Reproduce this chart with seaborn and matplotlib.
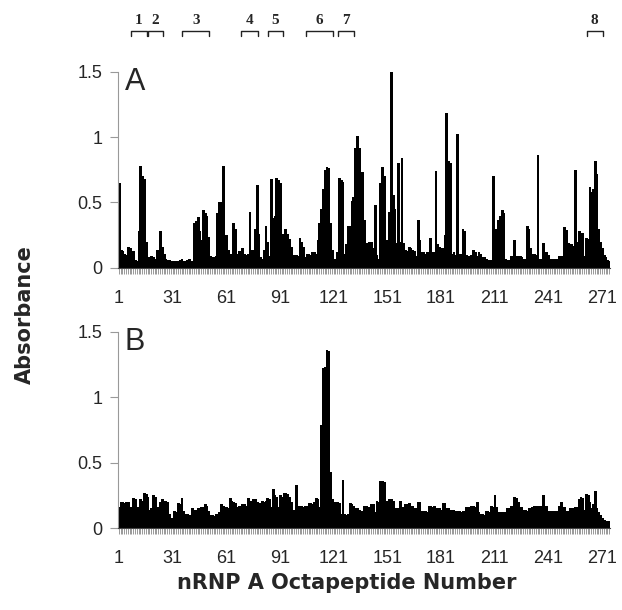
import numpy as np
import pandas as pd
import seaborn as sns
import matplotlib.pyplot as plt
from matplotlib.transforms import blended_transform_factory

# Absorbance for each nRNP A octapeptide (1..275), panel A and panel B
abs_a = [
    0.65, 0.14, 0.13, 0.11, 0.10, 0.16, 0.15, 0.06, 0.13, 0.06,
    0.05, 0.28, 0.78, 0.70, 0.68, 0.20, 0.08, 0.08, 0.09, 0.08,
    0.07, 0.14, 0.14, 0.28, 0.16, 0.11, 0.07, 0.06, 0.06, 0.05,
    0.05, 0.05, 0.05, 0.05, 0.06, 0.07, 0.05, 0.05, 0.06, 0.07,
    0.05, 0.05, 0.34, 0.36, 0.39, 0.28, 0.21, 0.44, 0.42, 0.40,
    0.24, 0.09, 0.08, 0.08, 0.09, 0.42, 0.50, 0.50, 0.78, 0.09,
    0.25, 0.14, 0.11, 0.11, 0.34, 0.30, 0.11, 0.13, 0.13, 0.15,
    0.11, 0.10, 0.11, 0.43, 0.14, 0.14, 0.30, 0.63, 0.26, 0.08,
    0.07, 0.14, 0.32, 0.20, 0.09, 0.68, 0.38, 0.40, 0.69, 0.67,
    0.65, 0.26, 0.26, 0.30, 0.26, 0.22, 0.16, 0.07, 0.10, 0.10,
    0.09, 0.23, 0.20, 0.16, 0.08, 0.11, 0.11, 0.10, 0.12, 0.12,
    0.11, 0.21, 0.34, 0.45, 0.60, 0.75, 0.77, 0.76, 0.34, 0.14,
    0.07, 0.07, 0.12, 0.69, 0.67, 0.66, 0.11, 0.18, 0.32, 0.32,
    0.51, 0.54, 0.92, 1.01, 0.92, 0.19, 0.73, 0.37, 0.19, 0.19,
    0.20, 0.20, 0.15, 0.48, 0.10, 0.07, 0.65, 0.77, 0.70, 0.18,
    0.21, 0.43, 1.54, 0.56, 0.45, 0.19, 0.80, 0.20, 0.84, 0.19,
    0.14, 0.13, 0.16, 0.15, 0.14, 0.13, 0.09, 0.37, 0.21, 0.12,
    0.12, 0.11, 0.12, 0.12, 0.23, 0.12, 0.12, 0.74, 0.18, 0.16,
    0.15, 0.15, 0.25, 1.18, 0.82, 0.80, 0.11, 0.12, 0.10, 1.02,
    0.11, 0.11, 0.30, 0.28, 0.10, 0.09, 0.09, 0.10, 0.14, 0.12,
    0.09, 0.12, 0.11, 0.08, 0.08, 0.07, 0.06, 0.06, 0.06, 0.70,
    0.28, 0.30, 0.37, 0.40, 0.44, 0.42, 0.07, 0.06, 0.06, 0.09,
    0.06, 0.21, 0.09, 0.09, 0.09, 0.08, 0.07, 0.07, 0.32, 0.30,
    0.15, 0.11, 0.11, 0.10, 0.86, 0.07, 0.07, 0.19, 0.12, 0.12,
    0.10, 0.07, 0.07, 0.07, 0.07, 0.07, 0.09, 0.09, 0.09, 0.31,
    0.29, 0.19, 0.18, 0.18, 0.17, 0.75, 0.20, 0.28, 0.27, 0.27,
    0.09, 0.23, 0.22, 0.62, 0.58, 0.60, 0.82, 0.72, 0.30, 0.20,
    0.15, 0.10, 0.08, 0.06, 0.05,
]
abs_b = [
    0.16, 0.20, 0.20, 0.19, 0.20, 0.20, 0.16, 0.15, 0.23, 0.22,
    0.16, 0.16, 0.22, 0.21, 0.27, 0.26, 0.24, 0.14, 0.15, 0.25,
    0.24, 0.15, 0.16, 0.20, 0.22, 0.21, 0.21, 0.20, 0.11, 0.08,
    0.08, 0.13, 0.12, 0.19, 0.18, 0.23, 0.13, 0.11, 0.11, 0.10,
    0.08, 0.15, 0.14, 0.14, 0.15, 0.15, 0.16, 0.16, 0.18, 0.17,
    0.13, 0.10, 0.10, 0.09, 0.11, 0.11, 0.12, 0.18, 0.17, 0.16,
    0.16, 0.15, 0.23, 0.21, 0.20, 0.19, 0.16, 0.17, 0.17, 0.18,
    0.18, 0.17, 0.23, 0.21, 0.21, 0.22, 0.22, 0.20, 0.19, 0.19,
    0.21, 0.20, 0.21, 0.23, 0.22, 0.16, 0.30, 0.25, 0.24, 0.16,
    0.25, 0.24, 0.27, 0.27, 0.26, 0.24, 0.20, 0.14, 0.14, 0.33,
    0.17, 0.17, 0.17, 0.16, 0.17, 0.17, 0.19, 0.19, 0.18, 0.20,
    0.23, 0.22, 0.16, 0.79, 1.22, 1.23, 1.36, 1.35, 0.43, 0.22,
    0.19, 0.20, 0.20, 0.19, 0.11, 0.37, 0.11, 0.10, 0.11, 0.19,
    0.18, 0.17, 0.15, 0.15, 0.14, 0.13, 0.13, 0.17, 0.17, 0.16,
    0.16, 0.18, 0.18, 0.12, 0.21, 0.20, 0.36, 0.36, 0.35, 0.21,
    0.21, 0.22, 0.22, 0.21, 0.14, 0.15, 0.15, 0.21, 0.16, 0.16,
    0.18, 0.18, 0.19, 0.17, 0.17, 0.15, 0.15, 0.20, 0.20, 0.13,
    0.13, 0.13, 0.12, 0.17, 0.17, 0.16, 0.17, 0.15, 0.15, 0.15,
    0.14, 0.19, 0.19, 0.15, 0.15, 0.14, 0.14, 0.14, 0.13, 0.13,
    0.13, 0.12, 0.13, 0.13, 0.16, 0.16, 0.15, 0.17, 0.17, 0.16,
    0.20, 0.12, 0.11, 0.11, 0.10, 0.13, 0.13, 0.12, 0.17, 0.16,
    0.25, 0.16, 0.12, 0.12, 0.12, 0.11, 0.12, 0.15, 0.15, 0.17,
    0.17, 0.24, 0.23, 0.20, 0.16, 0.16, 0.14, 0.14, 0.13, 0.15,
    0.15, 0.16, 0.17, 0.17, 0.16, 0.17, 0.17, 0.25, 0.17, 0.17,
    0.13, 0.13, 0.13, 0.13, 0.12, 0.13, 0.17, 0.20, 0.16, 0.16,
    0.13, 0.13, 0.15, 0.15, 0.15, 0.16, 0.16, 0.22, 0.24, 0.23,
    0.14, 0.26, 0.25, 0.20, 0.15, 0.18, 0.28, 0.15, 0.12, 0.10,
    0.08, 0.06, 0.05, 0.05, 0.05,
]
tick_labels = [1, 31, 61, 91, 121, 151, 181, 211, 241, 271]
y_ticks = [0, 0.5, 1, 1.5]
y_tick_labels = ["0", "0.5", "1", "1.5"]

# mapped epitopes (first and last octapeptide of each bracket)
epitope_names = ["1", "2", "3", "4", "5", "6", "7", "8"]
epitope_start = [8, 18, 37, 70, 85, 106, 124, 263]
epitope_end = [16, 25, 51, 78, 92, 120, 132, 271]

sns.set_style("white")
plt.rcParams["font.family"] = ["Liberation Sans", "DejaVu Sans"]

fig = plt.figure(figsize=(6.22, 6.10), dpi=100)
ax_a = fig.add_axes([0.1897, 0.5607, 0.791, 0.322])
ax_b = fig.add_axes([0.1897, 0.1344, 0.791, 0.322])


def draw_panel(ax, values, letter):
    """Bar chart of absorbance for one serum."""
    df = pd.DataFrame({"peptide": np.arange(1, len(values) + 1), "absorbance": values})
    sns.barplot(data=df, x="peptide", y="absorbance", ax=ax, color="black",
                width=1.0, edgecolor="black", linewidth=0.6, saturation=1)
    # solid black blocks, no hairline gaps between neighbouring bars
    for bar in ax.patches:
        bar.set_antialiased(False)
    n = len(values)
    ax.set_xlim(-0.5, n - 0.5)
    ax.set_ylim(0, 1.5)
    ax.set_xticks([t - 1 for t in tick_labels])
    ax.set_xticklabels([str(t) for t in tick_labels], fontsize=13)
    ax.set_xticks(np.arange(n), minor=True)
    ax.set_yticks(y_ticks)
    ax.set_yticklabels(y_tick_labels, fontsize=13)
    ax.tick_params(axis="x", which="both", direction="out", length=4, width=0.7,
                   color="#999999", pad=12, bottom=True)
    ax.tick_params(axis="y", direction="out", length=6, width=0.8,
                   color="#999999", pad=5, left=True)
    for side in ["top", "right"]:
        ax.spines[side].set_visible(False)
    ax.spines["left"].set_color("#999999")
    ax.spines["bottom"].set_color("#444444")
    ax.set_xlabel("")
    ax.set_ylabel("")
    ax.text(0.014, 0.906, letter, transform=ax.transAxes, fontsize=22,
            va="baseline", ha="left")


draw_panel(ax_a, abs_a, "A")
draw_panel(ax_b, abs_b, "B")

# epitope brackets above panel A
trans = blended_transform_factory(ax_a.transData, ax_a.transAxes)
for name, s, e in zip(epitope_names, epitope_start, epitope_end):
    ax_a.plot([s - 1.5, s - 1.5, e - 0.5, e - 0.5], [1.181, 1.208, 1.208, 1.181],
              transform=trans, clip_on=False, color="#222222", lw=1.0)
    ax_a.text((s + e) / 2 - 1, 1.262, name, transform=trans, ha="center", va="center",
              fontsize=11, fontweight="bold", family="Liberation Serif")

fig.text(0.040, 0.484, "Absorbance", rotation=90, ha="center", va="center",
         fontsize=15, fontweight="bold", family="DejaVu Sans")
fig.text(0.558, 0.044, "nRNP A Octapeptide Number", ha="center", va="center",
         fontsize=15, fontweight="bold", family="DejaVu Sans")

fig.savefig("out.png", dpi=100)
